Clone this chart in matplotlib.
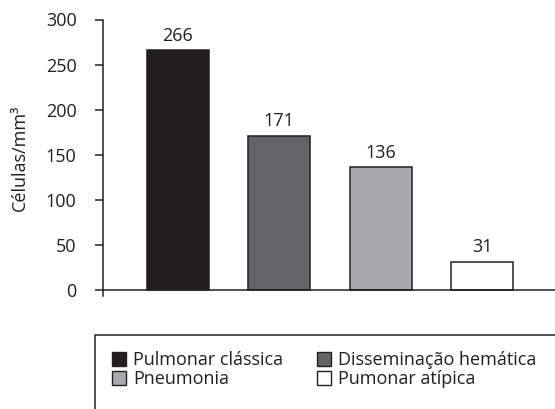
import matplotlib.pyplot as plt
from matplotlib.patches import Rectangle, Patch

plt.rcParams['font.family'] = ['Open Sans', 'DejaVu Sans']

# dados
categorias = ['Pulmonar clássica', 'Disseminação hemática', 'Pneumonia', 'Pumonar atípica']
valores = [266, 171, 136, 31]
cores = ['#231f20', '#636466', '#a7a9ac', '#ffffff']
yticks = [0, 50, 100, 150, 200, 250, 300]

escuro = '#231f20'
fs = 13

fig = plt.figure(figsize=(5.55, 4.09), dpi=100)
ax = fig.add_axes([103 / 555, 1 - 296 / 409, 1 - 103 / 555, (296 - 19.5) / 409])

x = list(range(len(valores)))
ax.bar(x, valores, width=0.61, color=cores, edgecolor=escuro, linewidth=1.1, zorder=2)

for xi, v in zip(x, valores):
    ax.annotate(str(v), (xi, v), xytext=(0, 4), textcoords='offset points',
                ha='center', va='bottom', fontsize=fs, color=escuro)

ax.set_xlim(-0.74, 3.72)
ax.set_ylim(-7, 300)
ax.set_yticks(yticks)
ax.set_xticks([])
ax.axhline(0, color=escuro, linewidth=1.1, zorder=3)
for lado in ['top', 'right', 'bottom']:
    ax.spines[lado].set_visible(False)
ax.spines['left'].set_color(escuro)
ax.spines['left'].set_linewidth(1.1)
ax.tick_params(axis='y', direction='out', length=6, width=1.1, color=escuro,
               labelsize=fs, labelcolor=escuro, pad=13)
ax.set_ylabel('Células/mm³', fontsize=fs, color=escuro, labelpad=12)

# legenda (ordem por linhas, como no original)
fig.patches.append(Rectangle((95 / 555, -0.1), 1.0, 1 - 335 / 409 + 0.1,
                             transform=fig.transFigure, fill=False,
                             edgecolor=escuro, linewidth=1.1))
ordem = [0, 2, 1, 3]
handles = [Patch(facecolor=cores[i], edgecolor=escuro, linewidth=1.0) for i in ordem]
rotulos = [categorias[i] for i in ordem]
fig.legend(handles, rotulos, loc='upper left', bbox_to_anchor=(112 / 555, 1 - 351 / 409),
           ncol=2, frameon=False, fontsize=fs, handlelength=0.78, handleheight=0.78,
           handletextpad=0.4, columnspacing=1.85, labelspacing=0.08,
           borderaxespad=0, borderpad=0, labelcolor=escuro)

fig.savefig('out.png', dpi=100)
